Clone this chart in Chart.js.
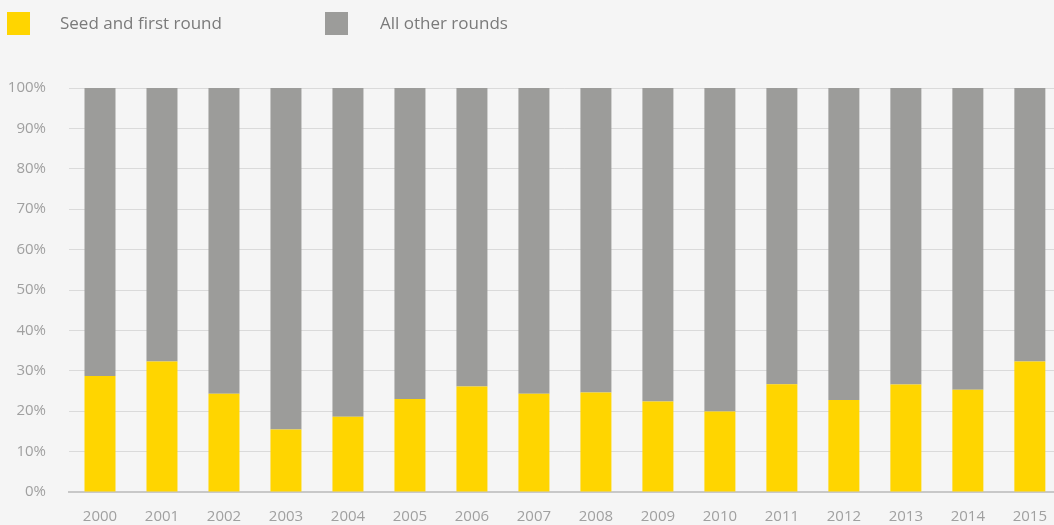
<!DOCTYPE html>
<html><head><meta charset="utf-8">
<script src="https://cdn.jsdelivr.net/npm/chart.js@4.4.1/dist/chart.umd.min.js"></script>
<style>
html,body{margin:0;padding:0;background:#f5f5f5;width:1054px;height:525px;overflow:hidden;font-family:"Open Sans",sans-serif;}
#wrap{position:absolute;left:0;top:0;width:1063px;height:525px;}
.leg{position:absolute;top:12px;height:23px;display:flex;align-items:center;}
.sw{width:23px;height:23px;display:inline-block;}
.lt{position:absolute;top:10px;font-size:17px;color:#7a7a7a;line-height:26px;white-space:nowrap;}
</style></head>
<body>
<div id="wrap"><canvas id="c" width="1063" height="525"></canvas></div>
<div class="leg" style="left:7px"><span class="sw" style="background:#ffd500"></span></div>
<div class="lt" style="left:60px">Seed and first round</div>
<div class="leg" style="left:325px"><span class="sw" style="background:#9c9c9a"></span></div>
<div class="lt" style="left:380px">All other rounds</div>
<script>
const years = ["2000","2001","2002","2003","2004","2005","2006","2007","2008","2009","2010","2011","2012","2013","2014","2015"];
const seedFirst = [28.7,32.3,24.3,15.5,18.6,23.0,26.1,24.3,24.6,22.4,19.9,26.7,22.8,26.6,25.3,32.3];
const otherRounds = [71.3,67.7,75.7,84.5,81.4,77.0,73.9,75.7,75.4,77.6,80.1,73.3,77.2,73.4,74.7,67.7];
const seriesNames = ["Seed and first round","All other rounds"];

new Chart(document.getElementById('c'), {
  type: 'bar',
  data: {
    labels: years,
    datasets: [
      {label: seriesNames[0], data: seedFirst, backgroundColor: '#ffd500', barPercentage: 0.5, categoryPercentage: 1.0},
      {label: seriesNames[1], data: otherRounds, backgroundColor: '#9c9c9a', barPercentage: 0.5, categoryPercentage: 1.0}
    ]
  },
  options: {
    responsive: false,
    animation: false,
    layout: {padding: {top: 88, right: 0, bottom: 0, left: 0}},
    plugins: {legend: {display: false}, tooltip: {enabled: false}},
    scales: {
      x: {
        stacked: true,
        grid: {display: false, drawTicks: false},
        border: {color: '#c8c8c8', width: 2},
        ticks: {color: '#a0a0a0', font: {family: 'Open Sans', size: 15}, padding: 16, maxRotation: 0, autoSkip: false},
        afterFit: s => { s.height = 33; }
      },
      y: {
        stacked: true,
        min: 0, max: 100,
        grid: {color: '#dadada', lineWidth: 1, drawTicks: false},
        border: {display: false},
        ticks: {stepSize: 10, color: '#a0a0a0', font: {family: 'Open Sans', size: 15}, padding: 23, callback: v => v + '%'},
        afterFit: s => { s.width = 69; }
      }
    }
  }
});
</script>
</body></html>
